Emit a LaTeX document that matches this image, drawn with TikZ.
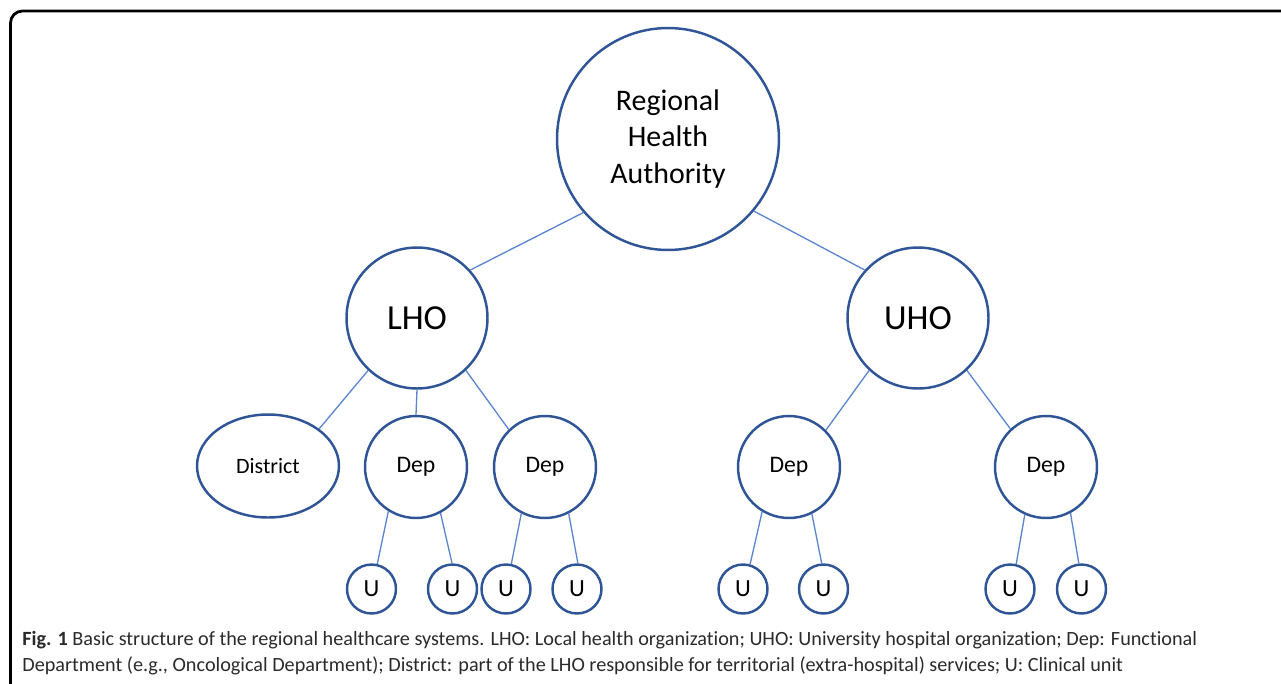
\documentclass[tikz,border=0pt]{standalone}
\usepackage{fontspec}
\setmainfont{Carlito}[Ligatures=NoCommon]
\usetikzlibrary{shapes.geometric}
\definecolor{ringblue}{HTML}{2F5597}
\definecolor{linkblue}{HTML}{5B86CF}
\definecolor{captext}{HTML}{2A2A2A}

\begin{document}
\begin{tikzpicture}[x=0.02cm, y=-0.02cm,
	org/.style={circle, draw=ringblue, line width=1.4pt, inner sep=0pt},
	link/.style={draw=linkblue, line width=0.75pt},
	caption/.style={anchor=west, inner sep=0pt, text=captext, font=\fontsize{11.5}{14}\selectfont}]
	\useasboundingbox (0,0) rectangle (1281,683);
	\draw [line width=1.6pt, rounded corners=0.24cm] (1300,11) -- (10.5,11) -- (10.5,700);

	\node[org, minimum size=4.44cm, align=center, font=\fontsize{17}{21}\selectfont] (rha) at (668,139) {Regional\\Health\\Authority};
	\node[org, minimum size=2.82cm, font=\fontsize{20}{24}\selectfont] (lho) at (417,318) {LHO};
	\node[org, minimum size=2.82cm, font=\fontsize{20}{24}\selectfont] (uho) at (918,318) {UHO};

	\node[org, ellipse, minimum width=2.84cm, minimum height=2.06cm, font=\fontsize{12.5}{15}\selectfont] (dist) at (268,466) {District};
	\foreach \name/\x in {dep1/416, dep2/545, dep3/789, dep4/1046}
	{
	\node[org, minimum size=2.04cm, font=\fontsize{13.5}{16}\selectfont] (\name) at (\x,467) {Dep};
}

	\foreach \name/\x in {u1/371.5, u2/452.5, u3/506, u4/577, u5/743, u6/823.5, u7/1010, u8/1081.5}
	{
	\node[org, minimum size=0.98cm, font=\fontsize{14}{17}\selectfont] (\name) at (\x,589) {U};
}

	\foreach \a/\b in {rha.221.5/lho.42, rha.320.6/uho.138.5, lho.227/dist.36, lho.south/dep1.north, lho.313/dep2.134,
		uho.227/dep3.45, uho.313/dep4.133, dep1.238/u1.77, dep1.298.5/u2.91, dep2.243/u3.78, dep2.297/u4.88,
		dep3.239.6/u5.74, dep3.296/u6.94, dep4.246/u7.76, dep4.298/u8.96}
	{
	\draw[link] (\a) -- (\b);
}

	\node[caption] (cap1) at (22,640) {\textbf{Fig. 1} Basic structure of the regional healthcare systems. LHO: Local health organization; UHO: University hospital organization; Dep: Functional};
	\node[caption] (cap2) at (22,666) {Department (e.g., Oncological Department); District: part of the LHO responsible for territorial (extra-hospital) services; U: Clinical unit};

\end{tikzpicture}
\end{document}
